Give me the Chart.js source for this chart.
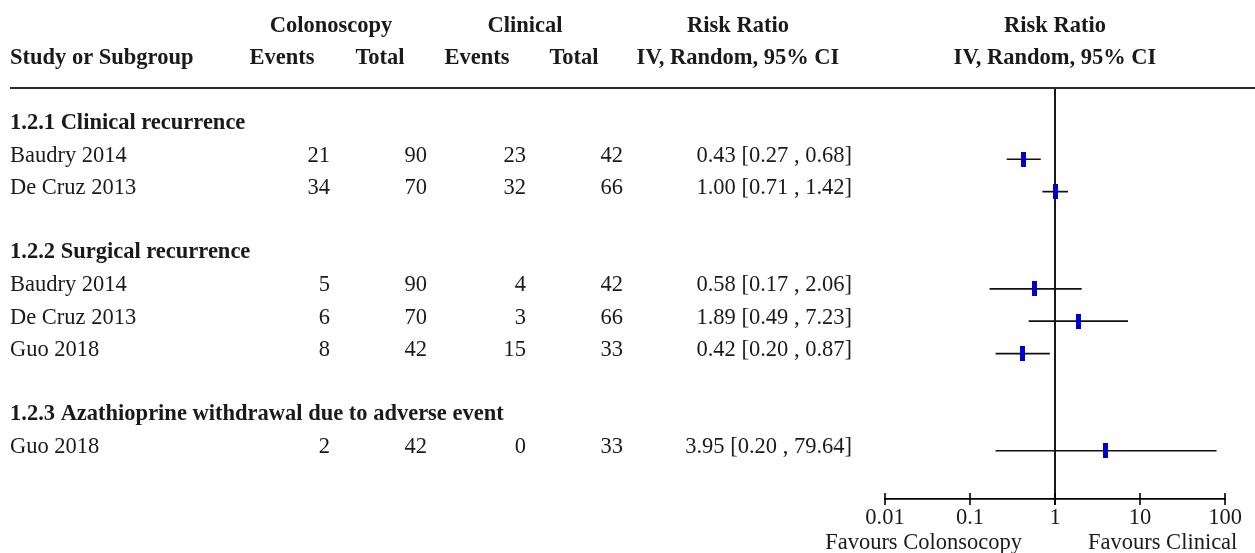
<!DOCTYPE html>
<html>
<head>
<meta charset="utf-8">
<script src="https://cdn.jsdelivr.net/npm/chart.js@4.4.1/dist/chart.umd.min.js"></script>
<style>
  html, body { margin: 0; padding: 0; background: #ffffff; }
  #wrap { width: 1255px; height: 553px; position: relative; }
</style>
</head>
<body>
<div id="wrap"><canvas id="forest"></canvas></div>
<script>
// Subgroups and studies
const groupLabels = [
  '1.2.1 Clinical recurrence',
  '1.2.2 Surgical recurrence',
  '1.2.3 Azathioprine withdrawal due to adverse event'
];
const studyNames = ['Baudry 2014', 'De Cruz 2013', 'Baudry 2014', 'De Cruz 2013', 'Guo 2018', 'Guo 2018'];
const studyGroup = [0, 0, 1, 1, 1, 2];

// Event counts
const colonEvents = [21, 34, 5, 6, 8, 2];
const colonTotal  = [90, 70, 90, 70, 42, 42];
const clinEvents  = [23, 32, 4, 3, 15, 0];
const clinTotal   = [42, 66, 42, 66, 33, 33];

// Risk ratios with 95% CI
const riskRatio = [0.43, 1.00, 0.58, 1.89, 0.42, 3.95];
const ciLow     = [0.27, 0.71, 0.17, 0.49, 0.20, 0.20];
const ciHigh    = [0.68, 1.42, 2.06, 7.23, 0.87, 79.64];

// Axis ticks and labels
const xTicks = [0.01, 0.1, 1, 10, 100];
const xTickLabels = ['0.01', '0.1', '1', '10', '100'];
const favoursLeft = 'Favours Colonsocopy';
const favoursRight = 'Favours Clinical';

// Row index for each subgroup heading and study line
const groupRow = [];
const studyRow = [];
(function () {
  let r = 0;
  groupLabels.forEach((g, gi) => {
    groupRow.push(r); r++;
    studyGroup.forEach((sg, si) => { if (sg === gi) { studyRow[si] = r; r++; } });
    r++;
  });
})();

const SERIF = "'Liberation Serif', 'Times New Roman', serif";
const FS = 22.5;
const INK = '#1a1a1a';

// Square marker for a point estimate
const marker = document.createElement('canvas');
marker.width = 5; marker.height = 15;
(function () {
  const m = marker.getContext('2d');
  m.fillStyle = '#0000cc';
  m.fillRect(0, 0, 5, 15);
})();

const ciSets = riskRatio.map((v, i) => ({
  type: 'scatter',
  data: [{ x: ciLow[i], y: studyRow[i] }, { x: ciHigh[i], y: studyRow[i] }],
  showLine: true,
  borderColor: '#111111',
  borderWidth: 1.7,
  pointRadius: 0,
  pointHoverRadius: 0,
  order: 2
}));

const pointSet = {
  type: 'scatter',
  data: riskRatio.map((v, i) => ({ x: v, y: studyRow[i] })),
  pointStyle: marker,
  pointRadius: 3,
  pointHoverRadius: 3,
  order: 1
};

function fmt(v) { return v.toFixed(2); }

const tablePlugin = {
  id: 'forestTable',
  beforeDatasetsDraw(chart) {
    const ctx = chart.ctx, xs = chart.scales.x, area = chart.chartArea;
    const x1 = Math.round(xs.getPixelForValue(1));
    ctx.save();
    ctx.strokeStyle = '#000000';
    ctx.lineWidth = 1.8;
    ctx.beginPath();
    ctx.moveTo(x1, area.top);
    ctx.lineTo(x1, area.bottom + 6);
    ctx.stroke();
    ctx.restore();
  },
  afterDraw(chart) {
    const ctx = chart.ctx, xs = chart.scales.x, ys = chart.scales.y, area = chart.chartArea;
    ctx.save();
    ctx.fillStyle = INK;

    // column headers
    ctx.font = `bold ${FS}px ${SERIF}`;
    ctx.textBaseline = 'alphabetic';
    ctx.textAlign = 'center';
    const h1 = 31.5, h2 = 63.5;
    ctx.fillText('Colonoscopy', 331, h1);
    ctx.fillText('Clinical', 525, h1);
    ctx.fillText('Risk Ratio', 738, h1);
    ctx.fillText('Risk Ratio', xs.getPixelForValue(1), h1);
    ctx.fillText('Events', 282, h2);
    ctx.fillText('Total', 380, h2);
    ctx.fillText('Events', 477, h2);
    ctx.fillText('Total', 574, h2);
    ctx.fillText('IV, Random, 95% CI', 738, h2);
    ctx.fillText('IV, Random, 95% CI', xs.getPixelForValue(1), h2);
    ctx.textAlign = 'left';
    ctx.fillText('Study or Subgroup', 10, h2);

    // rule under the headers
    ctx.strokeStyle = '#2a2a2a';
    ctx.lineWidth = 2.2;
    ctx.beginPath();
    ctx.moveTo(10, area.top);
    ctx.lineTo(chart.width, area.top);
    ctx.stroke();

    // subgroup headings
    groupLabels.forEach((g, gi) => {
      ctx.font = `bold ${FS}px ${SERIF}`;
      ctx.textAlign = 'left';
      ctx.fillText(g, 10, ys.getPixelForValue(groupRow[gi]) + 2);
    });

    // study lines
    ctx.font = `${FS}px ${SERIF}`;
    studyNames.forEach((s, i) => {
      const y = ys.getPixelForValue(studyRow[i]) + 2.5;
      ctx.textAlign = 'left';
      ctx.fillText(s, 10, y);
      ctx.textAlign = 'right';
      ctx.fillText(String(colonEvents[i]), 330, y);
      ctx.fillText(String(colonTotal[i]), 427, y);
      ctx.fillText(String(clinEvents[i]), 526, y);
      ctx.fillText(String(clinTotal[i]), 623, y);
      ctx.fillText(`${fmt(riskRatio[i])} [${fmt(ciLow[i])} , ${fmt(ciHigh[i])}]`, 852, y);
    });

    // tick marks across the axis line
    ctx.strokeStyle = '#000000';
    ctx.lineWidth = 1.6;
    xs.ticks.forEach(t => {
      const px = Math.round(xs.getPixelForValue(t.value));
      ctx.beginPath();
      ctx.moveTo(px, area.bottom - 6);
      ctx.lineTo(px, area.bottom + 6);
      ctx.stroke();
    });

    // direction labels
    const x1 = xs.getPixelForValue(1);
    ctx.font = `${FS}px ${SERIF}`;
    ctx.textAlign = 'right';
    ctx.fillText(favoursLeft, x1 - 33, 549);
    ctx.textAlign = 'left';
    ctx.fillText(favoursRight, x1 + 33, 549);
    ctx.restore();
  }
};

new Chart(document.getElementById('forest'), {
  type: 'scatter',
  data: { datasets: [...ciSets, pointSet] },
  options: {
    responsive: true,
    maintainAspectRatio: false,
    animation: false,
    events: [],
    layout: { padding: { left: 885, right: 30, top: 88, bottom: 0 } },
    plugins: { legend: { display: false }, tooltip: { enabled: false } },
    scales: {
      x: {
        type: 'logarithmic',
        position: 'bottom',
        min: 0.01,
        max: 100,
        afterBuildTicks: s => { s.ticks = xTicks.map(v => ({ value: v })); },
        afterFit: s => { s.height = 54; },
        grid: { display: false, drawTicks: false },
        border: { display: true, color: '#000000', width: 1.8 },
        ticks: {
          autoSkip: false,
          maxRotation: 0,
          padding: 6,
          color: INK,
          font: { family: SERIF, size: FS },
          callback: (v) => { const k = xTicks.indexOf(v); return k >= 0 ? xTickLabels[k] : ''; }
        }
      },
      y: {
        type: 'linear',
        display: false,
        reverse: true,
        min: -1.2,
        max: 11.49
      }
    }
  },
  plugins: [tablePlugin]
});
</script>
</body>
</html>
